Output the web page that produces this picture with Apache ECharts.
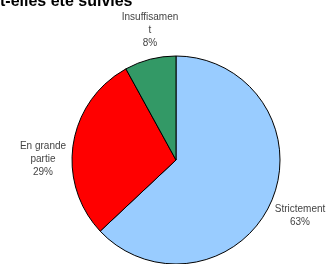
<!DOCTYPE html>
<html>
<head>
<meta charset="utf-8">
<script src="https://cdn.jsdelivr.net/npm/echarts@6/dist/echarts.min.js"></script>
<style>
  html, body { margin: 0; padding: 0; background: #fff; }
  #chart { width: 330px; height: 264px; }
</style>
</head>
<body>
<div id="chart"></div>
<script>
// données
var categories = ['Strictement', 'En grande\npartie', 'Insuffisamen\nt'];
var values = [63, 29, 8];
var colors = ['#99ccff', '#ff0000', '#339966'];

// position des étiquettes (centre)
var labelPos = [[300, 216], [43, 159], [150, 30]];

var chart = echarts.init(document.getElementById('chart'));

var option = {
    animation: false,
    title: {
        text: 't-elles été suivies',
        left: 0,
        top: -6,
        padding: 0,
        textStyle: {
            fontFamily: 'Liberation Sans',
            fontWeight: 'bold',
            fontSize: 16,
            color: '#000'
        }
    },
    series: [{
        type: 'pie',
        center: [176, 160],
        radius: 104,
        startAngle: 90,
        clockwise: true,
        data: categories.map(function (c, i) {
            return { name: c, value: values[i], itemStyle: { color: colors[i] } };
        }),
        itemStyle: {
            borderColor: '#000',
            borderWidth: 1
        },
        label: {
            show: true,
            position: 'outside',
            alignTo: 'none',
            overflow: 'none',
            formatter: '{b}\n{c}%',
            fontFamily: 'Liberation Sans',
            fontSize: 10,
            lineHeight: 13,
            color: '#444',
            align: 'center'
        },
        labelLine: { show: false },
        labelLayout: function (params) {
            var p = labelPos[params.dataIndex];
            return { x: p[0], y: p[1], align: 'center', verticalAlign: 'middle', hideOverlap: false };
        },
        emphasis: { disabled: true }
    }]
};

chart.setOption(option);
</script>
</body>
</html>
